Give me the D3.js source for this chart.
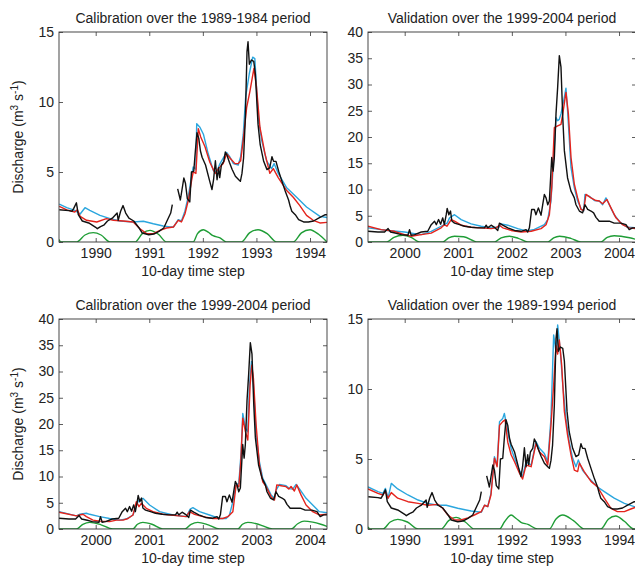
<!DOCTYPE html>
<html><head><meta charset="utf-8">
<script src="https://cdn.jsdelivr.net/npm/d3@7"></script>
<style>
html,body{margin:0;padding:0;background:#fff;}
svg text{font-family:"Liberation Sans",Arial,Helvetica,sans-serif;fill:#222;}
</style></head>
<body>
<svg id="chart" width="635" height="566"></svg>
<script>
// ---------- data (decimal year, discharge m3/s) ----------
const titles = [
  "Calibration over the 1989-1984 period",
  "Validation over the 1999-2004 period",
  "Calibration over the 1999-2004 period",
  "Validation over the 1989-1994 period"
];
const yTicks15 = [0, 5, 10, 15];
const yTicks40 = [0, 5, 10, 15, 20, 25, 30, 35, 40];
const years8994 = [1990, 1991, 1992, 1993, 1994];
const years9904 = [2000, 2001, 2002, 2003, 2004];

// observed 1989-1994 (null = missing data)
const obs8994 = [
[1989.32,2.3],[1989.50,2.24],[1989.56,2.2],[1989.59,2.4],[1989.64,2.8],[1989.675,1.95],[1989.75,1.5],[1989.87,1.36],[1990.0,1.05],[1990.03,0.95],[1990.09,1.1],[1990.15,1.2],[1990.22,1.5],[1990.31,1.7],[1990.40,2.07],[1990.42,1.55],[1990.465,2.2],[1990.51,2.6],[1990.56,2.07],[1990.62,1.7],[1990.71,1.5],[1990.81,1.0],[1990.87,0.64],[1990.99,0.52],[1991.085,0.57],[1991.18,0.76],[1991.27,1.0],[1991.33,1.5],[1991.40,2.07],[1991.43,2.67],[1991.48,null],
[1991.53,3.8],[1991.58,3.0],[1991.645,4.57],[1991.675,4.2],[1991.71,3.1],[1991.756,2.86],[1991.787,5.0],[1991.83,5.05],[1991.86,6.5],[1991.89,7.8],[1991.924,7.4],[1991.955,6.5],[1991.986,6.05],[1992.05,5.5],[1992.12,4.45],[1992.17,3.74],[1992.2,4.45],[1992.234,5.8],[1992.265,4.45],[1992.296,5.3],[1992.315,4.6],[1992.346,5.5],[1992.39,5.76],[1992.42,6.43],[1992.45,6.2],[1992.495,5.7],[1992.545,5.2],[1992.607,4.7],[1992.67,4.45],[1992.70,4.33],[1992.73,4.9],[1992.76,6.0],[1992.793,8.86],[1992.824,13.6],[1992.843,14.3],[1992.868,12.7],[1992.905,13.0],[1992.95,12.9],[1992.98,12.0],[1993.03,8.4],[1993.07,6.95],[1993.135,5.76],[1993.197,5.17],[1993.247,5.3],[1993.29,6.1],[1993.32,5.76],[1993.365,5.76],[1993.415,5.05],[1993.477,4.33],[1993.54,3.6],[1993.6,3.0],[1993.63,2.55],[1993.66,2.2],[1993.725,1.95],[1993.787,1.6],[1993.88,1.43],[1993.97,1.43],[1994.066,1.5],[1994.16,1.7],[1994.285,1.95],[1994.317,1.95]
];
const calBlue8994 = [
[1989.32,2.7],[1989.46,2.45],[1989.61,2.26],[1989.71,2.0],[1989.8,2.45],[1989.89,2.26],[1990.08,1.9],[1990.27,1.67],[1990.45,1.5],[1990.70,1.43],[1990.89,1.48],[1991.075,1.3],[1991.26,1.14],[1991.39,1.07],[1991.45,1.07],[1991.54,1.6],[1991.6,1.5],[1991.665,2.2],[1991.73,3.3],[1991.79,4.7],[1991.82,5.36],[1991.87,5.2],[1991.885,8.45],[1991.945,8.2],[1992.01,7.7],[1992.1,6.3],[1992.195,5.1],[1992.257,5.0],[1992.32,5.6],[1992.443,6.4],[1992.505,6.07],[1992.57,5.6],[1992.66,5.5],[1992.705,6.1],[1992.754,7.7],[1992.8,10.4],[1992.866,12.0],[1992.93,13.2],[1992.97,13.1],[1993.033,8.9],[1993.096,7.3],[1993.19,5.8],[1993.283,5.24],[1993.33,5.6],[1993.407,4.9],[1993.56,3.9],[1993.75,3.2],[1993.935,2.5],[1994.185,1.83],[1994.317,1.75]
];
const calRed8994 = [
[1989.32,2.55],[1989.46,2.3],[1989.61,2.14],[1989.657,2.3],[1989.71,1.83],[1989.83,1.55],[1990.02,1.43],[1990.2,1.67],[1990.33,1.55],[1990.515,1.5],[1990.70,1.43],[1990.826,0.95],[1990.95,0.6],[1991.075,0.6],[1991.2,0.83],[1991.32,1.0],[1991.45,1.07],[1991.54,1.55],[1991.6,1.43],[1991.665,2.0],[1991.73,3.0],[1991.79,4.4],[1991.82,5.0],[1991.87,4.9],[1991.915,8.1],[1991.96,7.5],[1992.04,6.8],[1992.13,5.7],[1992.23,4.9],[1992.29,5.24],[1992.38,5.6],[1992.443,6.3],[1992.505,6.0],[1992.6,5.6],[1992.66,5.6],[1992.705,5.8],[1992.754,7.3],[1992.817,9.6],[1992.88,10.8],[1992.953,12.4],[1993.0,11.1],[1993.065,8.2],[1993.16,6.3],[1993.25,4.9],[1993.315,5.24],[1993.407,4.6],[1993.56,3.7],[1993.687,3.2],[1993.81,2.6],[1993.935,1.9],[1994.06,1.55],[1994.185,1.36],[1994.317,1.4]
];
const calGreen8994 = [
[1989.315,0.17],[1989.35,0],[1989.645,0],[1989.8,0.5],[1989.955,0.67],[1990.1,0.5],[1990.266,0],[1990.733,0],[1990.87,0.6],[1991.013,0.83],[1991.17,0.55],[1991.325,0],[1991.82,0],[1991.9,0.6],[1992.01,0.88],[1992.1,0.7],[1992.19,0.45],[1992.32,0.3],[1992.44,0],[1992.72,0],[1992.87,0.65],[1993.03,0.88],[1993.2,0.6],[1993.376,0],[1993.687,0],[1993.84,0.65],[1994.0,0.88],[1994.16,0.55],[1994.317,0]
];
const valBlue8994 = [
[1989.315,3.0],[1989.5,2.67],[1989.595,2.55],[1989.64,2.9],[1989.69,2.2],[1989.75,3.26],[1989.87,2.86],[1990.06,2.43],[1990.25,2.07],[1990.43,1.83],[1990.62,1.7],[1990.775,1.7],[1990.99,1.48],[1991.24,1.29],[1991.43,1.2],[1991.49,1.7],[1991.55,1.6],[1991.61,2.55],[1991.675,5.17],[1991.725,4.57],[1991.77,7.67],[1991.83,7.9],[1991.86,8.26],[1991.924,6.95],[1991.986,5.76],[1992.05,5.05],[1992.14,4.2],[1992.2,3.74],[1992.265,4.8],[1992.36,4.57],[1992.45,6.24],[1992.515,5.76],[1992.607,5.4],[1992.67,4.8],[1992.73,7.9],[1992.78,13.86],[1992.824,12.67],[1992.855,14.57],[1992.905,12.67],[1992.95,10.3],[1993.01,7.9],[1993.07,6.24],[1993.135,5.05],[1993.197,4.45],[1993.24,4.93],[1993.32,4.2],[1993.445,3.6],[1993.6,3.0],[1993.725,2.67],[1993.91,2.2],[1994.1,1.83],[1994.285,1.6],[1994.317,1.58]
];
const valRed8994 = [
[1989.315,2.86],[1989.5,2.55],[1989.595,2.43],[1989.64,2.7],[1989.69,2.2],[1989.75,2.6],[1989.87,2.2],[1990.06,1.95],[1990.25,1.83],[1990.43,1.7],[1990.62,1.76],[1990.71,1.48],[1990.806,1.0],[1990.93,0.64],[1991.05,0.64],[1991.18,0.8],[1991.3,1.0],[1991.43,1.24],[1991.49,1.7],[1991.55,1.6],[1991.61,2.43],[1991.675,5.05],[1991.725,4.45],[1991.77,7.4],[1991.83,7.67],[1991.874,7.8],[1991.924,6.2],[1991.986,5.3],[1992.05,4.8],[1992.14,4.0],[1992.2,3.57],[1992.265,4.57],[1992.36,4.45],[1992.45,6.1],[1992.515,5.5],[1992.607,5.17],[1992.67,4.57],[1992.73,7.4],[1992.78,10.3],[1992.824,13.1],[1992.855,12.5],[1992.886,13.5],[1992.93,11.7],[1992.98,8.4],[1993.04,6.7],[1993.104,5.3],[1993.166,4.2],[1993.228,4.1],[1993.26,4.7],[1993.35,4.1],[1993.477,3.4],[1993.6,3.0],[1993.725,2.2],[1993.85,1.48],[1993.97,1.24],[1994.1,1.24],[1994.22,1.43],[1994.285,1.52],[1994.317,1.55]
];
const valGreen8994 = [
[1989.315,0.15],[1989.35,0],[1989.595,0],[1989.73,0.5],[1989.87,0.69],[1990.05,0.5],[1990.25,0],[1990.68,0],[1990.82,0.6],[1990.96,0.83],[1991.13,0.5],[1991.30,0],[1991.77,0],[1991.86,0.5],[1991.985,1.0],[1992.08,0.75],[1992.17,0.48],[1992.3,0.33],[1992.48,0],[1992.7,0],[1992.82,0.7],[1992.95,1.0],[1993.15,0.6],[1993.35,0],[1993.66,0],[1993.8,0.7],[1993.94,0.93],[1994.1,0.55],[1994.28,0],[1994.317,0]
];

// observed 1999-2004
const obs9904 = [
[1999.315,2.04],[1999.5,1.9],[1999.625,1.9],[1999.69,2.55],[1999.737,1.9],[1999.843,1.66],[1999.936,1.4],[2000.06,1.28],[2000.09,2.36],[2000.12,1.28],[2000.185,1.4],[2000.31,1.9],[2000.43,2.04],[2000.495,3.3],[2000.557,3.96],[2000.59,3.3],[2000.632,4.27],[2000.67,3.4],[2000.71,4.6],[2000.74,3.3],[2000.775,5.2],[2000.793,6.4],[2000.824,5.2],[2000.855,5.9],[2000.88,4.0],[2000.93,3.6],[2001.023,3.3],[2001.116,3.0],[2001.24,2.8],[2001.365,2.7],[2001.49,2.7],[2001.52,3.2],[2001.55,2.7],[2001.613,3.2],[2001.675,2.8],[2001.737,2.2],[2001.768,3.6],[2001.83,3.2],[2001.924,2.7],[2002.05,2.2],[2002.172,2.04],[2002.265,2.36],[2002.296,1.9],[2002.327,2.7],[2002.37,6.2],[2002.42,6.2],[2002.45,5.2],[2002.495,6.5],[2002.545,5.1],[2002.576,7.1],[2002.607,9.06],[2002.638,8.4],[2002.67,7.1],[2002.7,7.8],[2002.744,16.1],[2002.77,13.5],[2002.793,16.1],[2002.824,24.4],[2002.855,29.5],[2002.886,35.5],[2002.917,33.3],[2002.95,23.7],[2002.98,17.4],[2003.04,12.2],[2003.104,9.7],[2003.135,9.06],[2003.166,8.4],[2003.197,7.1],[2003.26,5.9],[2003.32,5.55],[2003.365,7.1],[2003.415,6.2],[2003.477,5.9],[2003.526,5.55],[2003.57,4.7],[2003.63,3.96],[2003.725,3.96],[2003.818,3.96],[2003.91,3.6],[2004.035,3.6],[2004.13,3.3],[2004.19,2.36],[2004.253,2.7],[2004.317,2.7]
];
const valBlue9904 = [
[1999.315,2.7],[1999.56,2.36],[1999.69,2.2],[1999.998,1.9],[2000.185,1.6],[2000.31,1.4],[2000.495,2.04],[2000.68,3.0],[2000.793,3.6],[2000.837,4.6],[2000.93,5.2],[2001.054,4.27],[2001.24,3.45],[2001.427,3.0],[2001.613,2.7],[2001.768,2.9],[2001.8,3.45],[2001.924,3.2],[2002.11,2.55],[2002.234,2.2],[2002.327,2.2],[2002.42,2.4],[2002.607,3.3],[2002.67,4.27],[2002.73,7.8],[2002.762,12.9],[2002.824,23.7],[2002.855,23.1],[2002.886,23.4],[2002.917,24.4],[2002.967,26.9],[2003.01,29.3],[2003.04,25.0],[2003.104,14.2],[2003.166,10.3],[2003.228,7.8],[2003.29,6.4],[2003.34,5.9],[2003.365,9.06],[2003.446,8.7],[2003.54,7.9],[2003.632,7.8],[2003.694,7.1],[2003.756,8.4],[2003.818,7.1],[2003.91,5.2],[2004.035,3.6],[2004.16,2.8],[2004.317,2.7]
];
const valRed9904 = [
[1999.315,3.0],[1999.56,2.36],[1999.81,2.04],[1999.998,1.4],[2000.12,1.1],[2000.31,1.4],[2000.495,1.7],[2000.68,2.7],[2000.74,3.3],[2000.787,3.0],[2000.818,3.45],[2000.868,4.27],[2000.93,3.96],[2001.054,3.2],[2001.24,2.8],[2001.427,2.7],[2001.613,2.55],[2001.706,2.7],[2001.768,3.2],[2001.83,2.7],[2001.986,2.2],[2002.172,1.9],[2002.36,2.04],[2002.545,2.55],[2002.638,3.3],[2002.7,5.2],[2002.744,10.3],[2002.793,21.8],[2002.855,22.1],[2002.917,22.4],[2002.95,24.4],[2003.01,28.5],[2003.055,24.4],[2003.104,16.1],[2003.166,11.0],[2003.228,8.4],[2003.29,6.2],[2003.34,6.0],[2003.383,9.06],[2003.477,8.4],[2003.57,7.9],[2003.632,7.8],[2003.694,7.3],[2003.775,8.1],[2003.85,6.5],[2003.943,4.6],[2004.066,3.3],[2004.19,2.7],[2004.317,2.55]
];
const valGreen9904 = [
[1999.315,0],[1999.66,0],[1999.8,0.9],[1999.967,1.3],[2000.12,0.9],[2000.278,0],[2000.71,0],[2000.82,0.8],[2000.93,1.1],[2001.1,1.0],[2001.365,0],[2001.675,0],[2001.8,0.8],[2001.955,1.1],[2002.12,0.7],[2002.3,0],[2002.67,0],[2002.78,0.8],[2002.89,1.1],[2003.1,0.7],[2003.29,0],[2003.66,0],[2003.78,0.9],[2003.91,1.2],[2004.2,0.8],[2004.317,0.5]
];
const calBlue9904 = [
[1999.317,3.3],[1999.64,2.5],[1999.7,2.8],[1999.826,3.0],[1999.888,2.8],[2000.075,2.35],[2000.26,2.0],[2000.447,1.7],[2000.57,1.9],[2000.696,2.67],[2000.758,4.57],[2000.808,5.5],[2000.882,5.84],[2001.006,4.57],[2001.193,3.3],[2001.441,2.67],[2001.69,2.35],[2001.764,3.8],[2001.814,4.06],[2001.938,3.3],[2002.124,2.67],[2002.31,2.0],[2002.435,2.0],[2002.497,2.67],[2002.56,5.2],[2002.621,8.4],[2002.671,8.7],[2002.715,14.7],[2002.745,22.0],[2002.795,19.2],[2002.839,18.5],[2002.87,27.4],[2002.907,31.9],[2002.944,27.4],[2002.994,17.9],[2003.056,12.8],[2003.118,9.65],[2003.18,8.4],[2003.273,6.5],[2003.336,5.84],[2003.367,7.4],[2003.43,8.5],[2003.553,8.25],[2003.615,7.7],[2003.677,7.6],[2003.74,8.5],[2003.8,7.7],[2003.926,5.84],[2004.05,4.57],[2004.174,3.3],[2004.317,3.1]
];
const calRed9904 = [
[1999.317,3.2],[1999.64,2.5],[1999.7,2.67],[1999.764,2.8],[1999.826,2.35],[1999.95,1.7],[2000.075,1.5],[2000.26,1.4],[2000.385,1.7],[2000.51,1.7],[2000.603,2.0],[2000.696,2.67],[2000.758,5.2],[2000.808,4.25],[2000.851,4.9],[2000.944,3.94],[2001.068,3.3],[2001.255,2.8],[2001.503,2.54],[2001.69,2.35],[2001.752,3.3],[2001.845,2.8],[2002.0,2.35],[2002.187,2.0],[2002.373,2.0],[2002.466,2.35],[2002.56,3.3],[2002.621,8.4],[2002.671,8.06],[2002.708,12.8],[2002.745,21.1],[2002.795,18.5],[2002.839,16.95],[2002.882,27.4],[2002.913,31.2],[2002.944,28.7],[2002.994,19.8],[2003.056,12.2],[2003.118,9.0],[2003.18,8.06],[2003.273,6.16],[2003.336,5.5],[2003.38,8.4],[2003.46,8.25],[2003.553,8.06],[2003.603,7.6],[2003.646,8.1],[2003.708,7.24],[2003.752,8.4],[2003.832,6.5],[2003.926,4.57],[2004.05,3.3],[2004.174,2.67],[2004.317,2.8]
];
const calGreen9904 = [
[1999.317,0],[1999.64,0],[1999.76,0.9],[1999.89,1.27],[2000.1,0.8],[2000.32,0],[2000.69,0],[2000.78,0.9],[2000.88,1.27],[2001.05,0.9],[2001.25,0],[2001.66,0],[2001.78,0.9],[2001.905,1.27],[2002.1,0.8],[2002.31,0],[2002.65,0],[2002.74,0.9],[2002.84,1.27],[2003.0,1.0],[2003.12,0.6],[2003.3,0],[2003.645,0],[2003.77,1.0],[2003.89,1.5],[2004.05,1.3],[2004.2,0.9],[2004.317,0.5]
];

// ---------- drawing ----------
const colors = {obs:"#111111", blue:"#2ba6de", red:"#e4231c", green:"#1f9d36"};
const PW = 268, PH = 210;
const panels = [
  {title:titles[0], left:59,  top:32,  xDom:[1989.315,1994.317], years:years8994, yMax:15, yt:yTicks15,
   green:calGreen8994, blue:calBlue8994, red:calRed8994, obs:obs8994, ylabel:true},
  {title:titles[1], left:368, top:32,  xDom:[1999.315,2004.317], years:years9904, yMax:40, yt:yTicks40,
   green:valGreen9904, blue:valBlue9904, red:valRed9904, obs:obs9904, ylabel:false},
  {title:titles[2], left:59,  top:319, xDom:[1999.315,2004.317], years:years9904, yMax:40, yt:yTicks40,
   green:calGreen9904, blue:calBlue9904, red:calRed9904, obs:obs9904, ylabel:true},
  {title:titles[3], left:368, top:319, xDom:[1989.315,1994.317], years:years8994, yMax:15, yt:yTicks15,
   green:valGreen8994, blue:valBlue8994, red:valRed8994, obs:obs8994, ylabel:false}
];

const svg = d3.select("#chart");
const defs = svg.append("defs");

panels.forEach((p, i) => {
  const x = d3.scaleLinear().domain(p.xDom).range([0, PW]);
  const y = d3.scaleLinear().domain([0, p.yMax]).range([PH, 0]);
  const g = svg.append("g").attr("transform", `translate(${p.left},${p.top})`);

  defs.append("clipPath").attr("id", "clip" + i)
    .append("rect").attr("x", 0).attr("y", 0).attr("width", PW).attr("height", PH);

  const plot = g.append("g").attr("clip-path", `url(#clip${i})`);
  const line = d3.line().defined(d => d[1] !== null).x(d => x(d[0])).y(d => y(d[1]));
  const smooth = d3.line().curve(d3.curveMonotoneX).x(d => x(d[0])).y(d => y(d[1]));

  plot.append("path").datum(p.green).attr("d", smooth)
    .attr("fill", "none").attr("stroke", colors.green).attr("stroke-width", 1.4);
  plot.append("path").datum(p.blue).attr("d", line)
    .attr("fill", "none").attr("stroke", colors.blue).attr("stroke-width", 1.4).attr("stroke-linejoin","round");
  plot.append("path").datum(p.red).attr("d", line)
    .attr("fill", "none").attr("stroke", colors.red).attr("stroke-width", 1.4).attr("stroke-linejoin","round");
  plot.append("path").datum(p.obs).attr("d", line)
    .attr("fill", "none").attr("stroke", colors.obs).attr("stroke-width", 1.4).attr("stroke-linejoin","round");

  // axes
  const styleAxis = sel => {
    sel.select(".domain").remove();
    sel.selectAll(".tick line").attr("stroke", "#333").attr("stroke-width", 0.8);
    sel.selectAll("text").attr("font-size", 14).attr("fill", "#222")
      .attr("font-family", '"Liberation Sans",Arial,sans-serif');
  };
  g.append("g").attr("transform", `translate(0,${PH})`)
    .call(d3.axisBottom(x).tickValues(p.years).tickFormat(d3.format("d")).tickSize(-4).tickPadding(6))
    .call(styleAxis);
  g.append("g")
    .call(d3.axisTop(x).tickValues(p.years).tickFormat("").tickSize(-4))
    .call(styleAxis);
  g.append("g")
    .call(d3.axisLeft(y).tickValues(p.yt).tickFormat(d3.format("d")).tickSize(-4).tickPadding(5))
    .call(styleAxis);
  g.append("g").attr("transform", `translate(${PW},0)`)
    .call(d3.axisRight(y).tickValues(p.yt).tickFormat("").tickSize(-4))
    .call(styleAxis);

  g.append("rect").attr("x", 0).attr("y", 0).attr("width", PW).attr("height", PH)
    .attr("fill", "none").attr("stroke", "#333").attr("stroke-width", 0.9);

  // title
  g.append("text").attr("x", PW / 2).attr("y", -9).attr("text-anchor", "middle")
    .attr("font-size", 14).text(p.title);
  // x label
  g.append("text").attr("x", PW / 2).attr("y", PH + 34).attr("text-anchor", "middle")
    .attr("font-size", 14).text("10-day time step");
  // y label
  if (p.ylabel) {
    const t = g.append("text").attr("transform", `translate(${23 - p.left},${PH / 2}) rotate(-90)`)
      .attr("text-anchor", "middle").attr("font-size", 14);
    t.append("tspan").text("Discharge (m");
    t.append("tspan").attr("dy", -5).attr("font-size", 10).text("3");
    t.append("tspan").attr("dy", 5).text(" s");
    t.append("tspan").attr("dy", -5).attr("font-size", 10).text("-1");
    t.append("tspan").attr("dy", 5).text(")");
  }
});
</script>
</body></html>
